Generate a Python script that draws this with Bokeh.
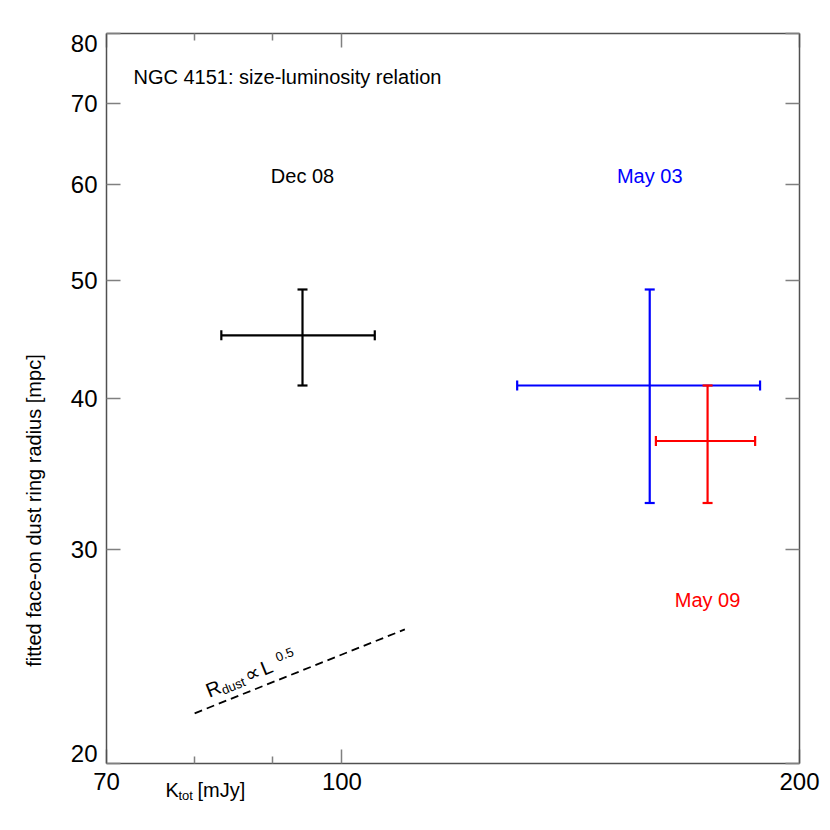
import math
from bokeh.plotting import figure
from bokeh.models import (LogAxis, FixedTicker, Whisker, TeeHead, ColumnDataSource,
                          Label, Range1d, PrintfTickFormatter, CustomJSTickFormatter)
from bokeh.embed import file_html
from bokeh.resources import INLINE

# ---------------- data ----------------
epochs = ["Dec 08", "May 03", "May 09"]
colors = ["#000000", "#0000ff", "#ff0000"]
flux = [94.2, 159.4, 174.0]          # K_tot [mJy]
flux_lo = [83.3, 130.4, 160.9]
flux_hi = [105.1, 188.4, 187.0]
radius = [45.1, 41.0, 36.9]          # ring radius [mpc]
radius_lo = [41.0, 32.8, 32.8]
radius_hi = [49.2, 49.2, 41.0]
label_y = [61.0, 61.0, 27.3]

relation_x = [80.0, 110.0]           # R_dust ~ L^0.5 guide line
relation_y = [22.0, 25.8]

x_ticks = [70, 100, 200]
x_minor = [80, 90]
y_ticks = [20, 30, 40, 50, 60, 70, 80]
y_end_labels = ["80", "20"]          # end labels, drawn inside the axis span

FONT = "Liberation Sans"

p = figure(width=830, height=830, x_axis_type="log", y_axis_type="log",
           x_range=Range1d(70, 200), y_range=Range1d(20, 80),
           output_backend="svg", toolbar_location=None,
           min_border_left=106, min_border_right=31, min_border_top=33,
           min_border_bottom=67)
p.outline_line_color = None
p.xgrid.visible = False
p.ygrid.visible = False
p.background_fill_color = "white"
p.border_fill_color = "white"

AX_COL = "#505050"
TICK_COL = "#808080"


def style_axis(ax, ticks, minor, formatter, size, standoff):
    ax.ticker = FixedTicker(ticks=ticks, minor_ticks=minor)
    ax.axis_line_color = AX_COL
    ax.axis_line_width = 1.5
    ax.major_tick_line_color = TICK_COL
    ax.major_tick_line_width = 1.5
    ax.minor_tick_line_color = TICK_COL
    ax.minor_tick_line_width = 1.5
    ax.major_tick_in = 14
    ax.major_tick_out = 0
    ax.minor_tick_in = 7
    ax.minor_tick_out = 0
    ax.major_label_text_font = FONT
    ax.major_label_text_color = "black"
    ax.major_label_standoff = standoff
    ax.major_label_text_font_size = size
    ax.formatter = formatter


style_axis(p.xaxis[0], x_ticks, x_minor, PrintfTickFormatter(format="%d"), "24px", 9)
style_axis(p.yaxis[0], y_ticks, [],
           CustomJSTickFormatter(code="return (tick == 20 || tick == 80) ? '' : tick.toFixed(0)"),
           "24px", 9)
top_ax = LogAxis()
style_axis(top_ax, x_ticks, x_minor, CustomJSTickFormatter(code="return ''"), "0px", 0)
p.add_layout(top_ax, "above")
right_ax = LogAxis()
style_axis(right_ax, y_ticks, [], CustomJSTickFormatter(code="return ''"), "0px", 0)
p.add_layout(right_ax, "right")

# end labels of the y axis (kept inside the axis span, as in the original)
p.add_layout(Label(x=70, y=40, x_offset=-9, text="\n".join(y_end_labels),
                   text_align="right", text_baseline="middle", text_font=FONT,
                   text_font_size="24px", text_line_height=26.31,
                   text_color="black"), "left")

# ---------------- error bars ----------------
for i in range(len(epochs)):
    src = ColumnDataSource(dict(x=[flux[i]], y=[radius[i]],
                                xlo=[flux_lo[i]], xhi=[flux_hi[i]],
                                ylo=[radius_lo[i]], yhi=[radius_hi[i]]))
    c = colors[i]
    wx = Whisker(source=src, base="y", lower="xlo", upper="xhi", dimension="width",
                 line_color=c, line_width=2.2,
                 lower_head=TeeHead(size=10, line_color=c, line_width=2.2),
                 upper_head=TeeHead(size=10, line_color=c, line_width=2.2))
    wy = Whisker(source=src, base="x", lower="ylo", upper="yhi", dimension="height",
                 line_color=c, line_width=2.2,
                 lower_head=TeeHead(size=10, line_color=c, line_width=2.2),
                 upper_head=TeeHead(size=10, line_color=c, line_width=2.2))
    p.add_layout(wx)
    p.add_layout(wy)
    p.add_layout(Label(x=flux[i], y=label_y[i], text=epochs[i], text_align="center",
                       text_baseline="alphabetic", text_font=FONT,
                       text_font_size="20px", text_color=c))

# ---------------- guide line ----------------
p.line(relation_x, relation_y, line_color="black", line_width=1.8, line_dash="8 5")

ang = math.radians(22)
ca, sa = math.cos(ang), math.sin(ang)
base_dx, base_dy = 12, 22


def rot_label(txt, s, h, size):
    p.add_layout(Label(x=relation_x[0], y=relation_y[0],
                       x_offset=base_dx + s * ca - h * sa,
                       y_offset=base_dy + s * sa + h * ca,
                       text=txt, angle=ang, text_align="left",
                       text_baseline="alphabetic", text_font=FONT,
                       text_font_size=size, text_color="black"))


rot_label("R", 0, 0, "20px")
rot_label("dust", 14.5, -5, "13px")
rot_label("\u221d", 42, 0, "21px")
rot_label("L", 59, 0, "20px")
rot_label("0.5", 77, 5, "13px")

# ---------------- texts ----------------
p.add_layout(Label(x=70, y=80, x_offset=27, y_offset=-43,
                   text="NGC 4151: size-luminosity relation", text_align="left",
                   text_baseline="alphabetic", text_font=FONT, text_font_size="20px",
                   text_color="black"))

# Texts outside the frame are attached to side panels (so they are not clipped);
# their position is still given relative to the frame corner (70, 20).
p.add_layout(Label(x=70, y=20, x_offset=59, y_offset=-26, text="K",
                   text_align="left", text_baseline="alphabetic", text_font=FONT,
                   text_font_size="20px", text_color="black"), "below")
p.add_layout(Label(x=70, y=20, x_offset=72, y_offset=-32, text="tot",
                   text_align="left", text_baseline="alphabetic", text_font=FONT,
                   text_font_size="13px", text_color="black"), "right")
p.add_layout(Label(x=70, y=20, x_offset=91, y_offset=-26, text="[mJy]",
                   text_align="left", text_baseline="alphabetic", text_font=FONT,
                   text_font_size="20px", text_color="black"), "above")

p.add_layout(Label(x=70, y=20, x_offset=-73, y_offset=253,
                   text="fitted face-on dust ring radius [mpc]", angle=math.pi / 2,
                   text_align="center", text_baseline="alphabetic", text_font=FONT,
                   text_font_size="20px", text_color="black"), "left")

open("out.html", "w").write(file_html(p, INLINE))
